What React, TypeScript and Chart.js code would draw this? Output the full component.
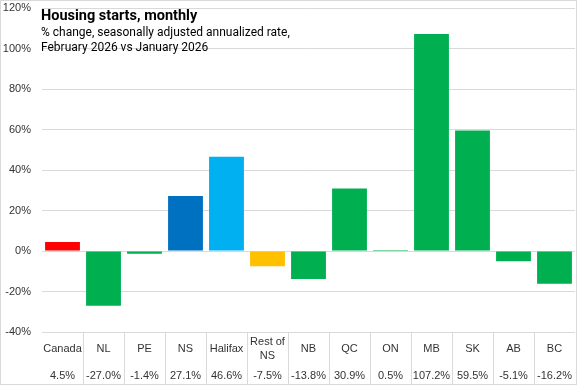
import React, { useEffect, useRef } from "react";
import { Chart, registerables } from "chart.js";

Chart.register(...registerables);

const categories: string[][] = [
  ["Canada"], ["NL"], ["PE"], ["NS"], ["Halifax"], ["Rest of", "NS"],
  ["NB"], ["QC"], ["ON"], ["MB"], ["SK"], ["AB"], ["BC"],
];
const values: number[] = [4.5, -27.0, -1.4, 27.1, 46.6, -7.5, -13.8, 30.9, 0.5, 107.2, 59.5, -5.1, -16.2];
const barColors: string[] = [
  "#FF0000", "#00B050", "#00B050", "#0070C0", "#00B0F0", "#FFC000",
  "#00B050", "#00B050", "#00B050", "#00B050", "#00B050", "#00B050", "#00B050",
];
const titleText = "Housing starts, monthly";
const subtitleLines: string[] = [
  "% change, seasonally adjusted annualized rate,",
  "February 2026 vs January 2026",
];

const FONT = "'Liberation Sans', Arial, sans-serif";
const TFONT = "Roboto, 'Liberation Sans', sans-serif";
const GRID = "#d9d9d9";
const TEXT = "#333333";

const tablePlugin = {
  id: "tablePlugin",
  afterDraw(chart: any) {
    const { ctx, chartArea, scales } = chart;
    const x = scales.x;
    const W = chart.width;
    const H = chart.height;
    ctx.save();
    ctx.strokeStyle = GRID;
    ctx.lineWidth = 1;
    const n = categories.length;
    const step = (chartArea.right - chartArea.left) / n;
    for (let i = 1; i < n; i++) {
      const px = Math.round(x.getPixelForValue(i) - step / 2) + 0.5;
      ctx.beginPath();
      ctx.moveTo(px, chartArea.bottom);
      ctx.lineTo(px, H);
      ctx.stroke();
    }
    ctx.strokeRect(0.5, 0.5, W - 1, H - 1);
    ctx.fillStyle = TEXT;
    ctx.font = `11px ${FONT}`;
    ctx.textAlign = "center";
    ctx.textBaseline = "middle";
    categories.forEach((lab, i) => {
      const cx = x.getPixelForValue(i);
      if (lab.length === 1) {
        ctx.fillText(lab[0], cx, 349);
      } else {
        ctx.fillText(lab[0], cx, 342);
        ctx.fillText(lab[1], cx, 356);
      }
      ctx.fillText(values[i].toFixed(1) + "%", cx, 376);
    });
    ctx.textAlign = "left";
    ctx.textBaseline = "alphabetic";
    ctx.fillStyle = "#000000";
    ctx.font = `bold 14.5px ${TFONT}`;
    ctx.fillText(titleText, 41, 20);
    ctx.font = `12px ${TFONT}`;
    ctx.fillText(subtitleLines[0], 41, 36);
    ctx.fillText(subtitleLines[1], 41, 51);
    ctx.restore();
  },
};

export default function App() {
  const ref = useRef<HTMLCanvasElement>(null);
  useEffect(() => {
    if (!ref.current) return;
    const chart = new Chart(ref.current, {
      type: "bar",
      data: {
        labels: categories.map((c) => c.join(" ")),
        datasets: [
          {
            data: values,
            backgroundColor: barColors,
            barPercentage: 0.85,
            categoryPercentage: 1,
          },
        ],
      },
      options: {
        animation: false,
        responsive: false,
        maintainAspectRatio: false,
        layout: { padding: { left: 0, right: 2, top: 8, bottom: 53 } },
        plugins: { legend: { display: false }, tooltip: { enabled: false }, title: { display: false } },
        scales: {
          x: { display: false },
          y: {
            min: -40,
            max: 120,
            afterFit: (s: any) => {
              s.width = 42;
              s.paddingTop = 0;
              s.paddingBottom = 0;
            },
            ticks: {
              stepSize: 20,
              padding: 11,
              color: TEXT,
              font: { family: FONT, size: 11 },
              callback: (v: any) => v + "%",
            },
            grid: { color: GRID, drawTicks: false },
            border: { display: false },
          },
        },
      },
      plugins: [tablePlugin],
    });
    return () => chart.destroy();
  }, []);
  return (
    <div style={{ position: "absolute", left: 0, top: 0, width: 577, height: 385, background: "#fff" }}>
      <canvas ref={ref} width={577} height={385} style={{ display: "block" }} />
    </div>
  );
}
